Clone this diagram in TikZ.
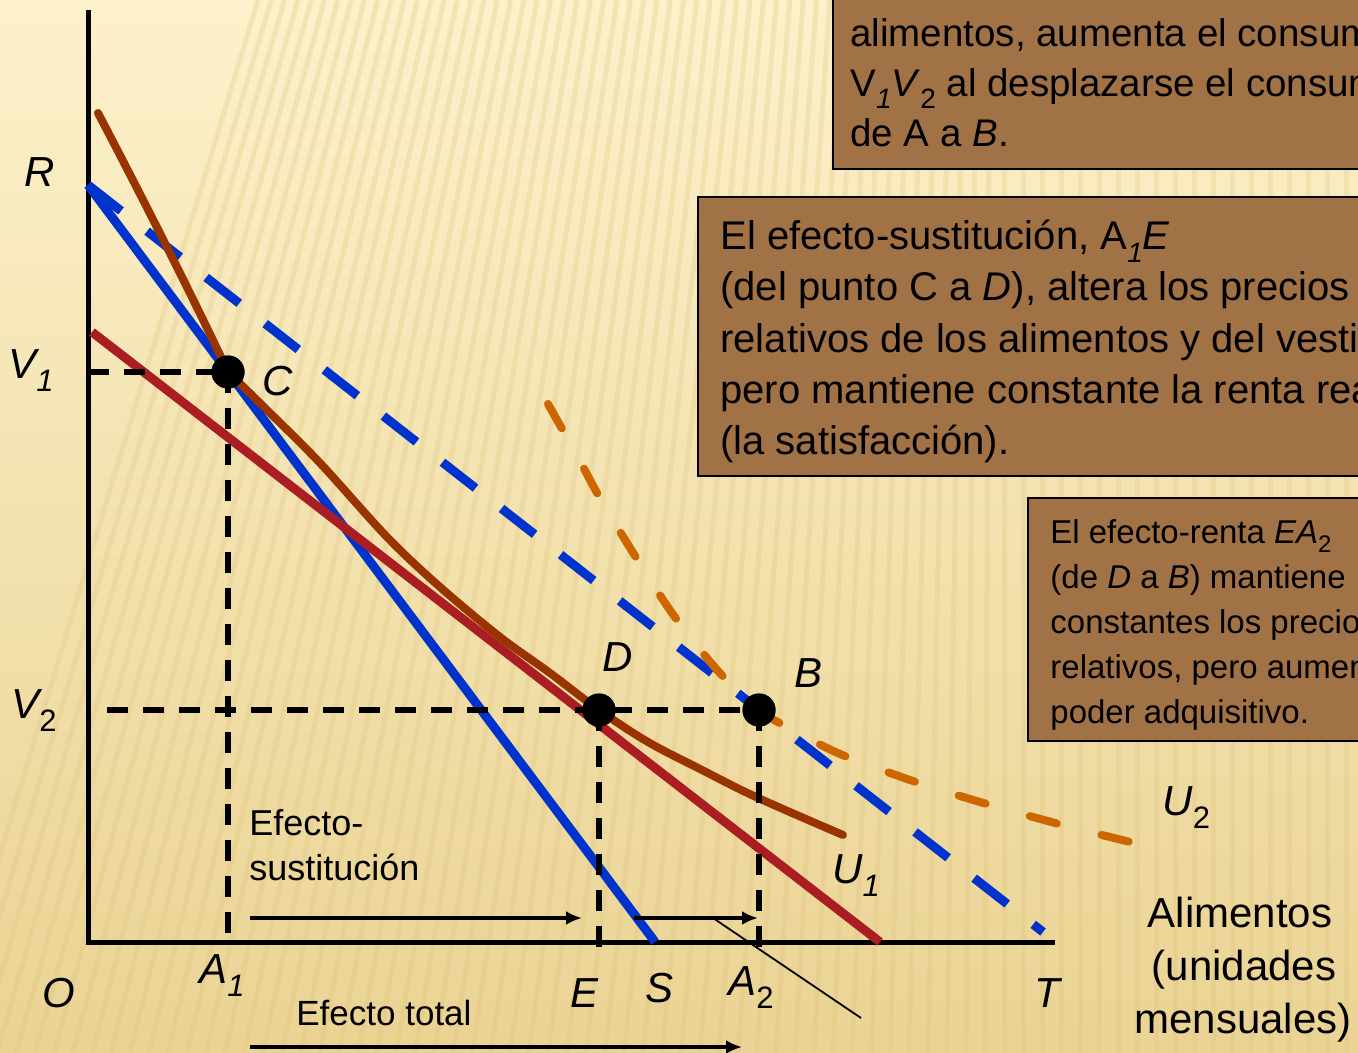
\documentclass[tikz,border=0pt]{standalone}
\usepackage{fontspec}
\setmainfont{Liberation Sans}
\usetikzlibrary{arrows.meta}
\definecolor{boxbrown}{RGB}{161,114,70}
\definecolor{lineblue}{RGB}{0,51,204}
\definecolor{ubrown}{RGB}{153,51,0}
\definecolor{bred}{RGB}{170,30,35}
\definecolor{uorange}{RGB}{204,102,0}
\definecolor{bgtop}{RGB}{252,241,203}
\definecolor{bgbot}{RGB}{234,211,148}
\definecolor{stripecol}{RGB}{222,192,118}
\newcommand\lsub[1]{\raisebox{-0.32em}{\fontsize{15.5}{16}\selectfont #1}}
\newcommand\bsub[1]{\raisebox{-0.3em}{\fontsize{14}{14}\selectfont #1}}
\newcommand\csub[1]{\raisebox{-0.3em}{\fontsize{12}{12}\selectfont #1}}
\begin{document}
\begin{tikzpicture}[x=0.5pt,y=-0.5pt,
  boxstyle/.style={fill=boxbrown,draw=black,line width=1.4pt},
  btA/.style={anchor=base west,inner sep=0,font=\fontsize{19.25}{23}\selectfont},
  btB/.style={anchor=base west,inner sep=0,font=\fontsize{20}{24}\selectfont},
  btC/.style={anchor=base west,inner sep=0,font=\fontsize{16.5}{20}\selectfont},
  axlab/.style={anchor=base west,inner sep=0,font=\fontsize{21}{25}\selectfont\itshape},
  plab/.style={anchor=base west,inner sep=0,font=\fontsize{18}{22}\selectfont},
  axisline/.style={line width=2.5pt,black},
  dline/.style={line width=2.8pt,black,dash pattern=on 10.5pt off 7.5pt},
  dot/.style={circle,fill=black,minimum size=16.5pt,inner sep=0},
  budget/.style={line width=4.5pt,lineblue},
  budgetd/.style={line width=4.5pt,lineblue,dash pattern=on 21pt off 16.5pt},
  redline/.style={line width=4.5pt,bred},
  ucurve/.style={line width=4pt,ubrown,line cap=round,line join=round},
  ucurved/.style={line width=4pt,uorange,line cap=round,dash pattern=on 14pt off 23pt},
  arr/.style={line width=2pt,-{Latex[length=8pt,width=7pt]}}
]
\useasboundingbox (0,0) rectangle (1358,1053);
\clip (0,0) rectangle (1358,1053);
% background
\shade[top color=bgtop,bottom color=bgbot] (0,0) rectangle (1358,1053);
\foreach \k in {0,...,78}{
  \pgfmathsetmacro\xb{\k*19-60}
  \pgfmathsetmacro\dd{max(0,300*(1-\xb/1000))}
  \draw[stripecol,line width=2.5pt,opacity=0.25] (\xb,1053) -- ({\xb+\dd},0);
}

% boxes
\draw[boxstyle] (833,-20) rectangle (1400,169);
\node[btA] (b1a) at (850,47) {alimentos, aumenta el consumo de vestido,};
\node[btA] (b1b) at (850,97) {V\bsub{\itshape 1}\textit{V}\bsub{2} al desplazarse el consumidor};
\node[btA] (b1c) at (850,147) {de A a \textit{B}.};

\draw[boxstyle] (698,197) rectangle (1400,476);
\node[btB] (b2a) at (720,250) {El efecto-sustitución, A\bsub{\itshape 1}\textit{E}};
\node[btB] (b2b) at (720,301) {(del punto C a \textit{D}), altera los precios};
\node[btB] (b2c) at (720,352) {relativos de los alimentos y del vestido,};
\node[btB] (b2d) at (720,403) {pero mantiene constante la renta real};
\node[btB] (b2e) at (720,454) {(la satisfacción).};

\draw[boxstyle] (1028,498) rectangle (1400,741);
\node[btC] (b3a) at (1050,543) {El efecto-renta \textit{EA}\csub{2}};
\node[btC] (b3b) at (1050,588) {(de \textit{D} a \textit{B}) mantiene};
\node[btC] (b3c) at (1050,633) {constantes los precios};
\node[btC] (b3d) at (1050,678) {relativos, pero aumenta el};
\node[btC] (b3e) at (1050,723) {poder adquisitivo.};

% key points
\coordinate (O) at (88,942);
\coordinate (ytop) at (88,10);
\coordinate (xend) at (1055,942);
\coordinate (R) at (88,185);
\coordinate (S) at (655,942);
\coordinate (Tend) at (1043,932);
\coordinate (P) at (92,332);
\coordinate (Q) at (880,942);
\coordinate (yV1) at (88,372);
\coordinate (yV2) at (107,710);
\coordinate (xA1) at (228,935);
\coordinate (xE) at (599,950);
\coordinate (xA2) at (759,950);
\coordinate (U1s) at (98,113);

% axes
\draw[axisline] (ytop) -- (O) -- (xend);

% budget lines
\draw[budgetd] (R) -- (Tend);
\draw[budget] (R) -- (S);
\draw[redline] (P) -- (Q);

% dots positions
\coordinate (Cc) at (228,372);
\coordinate (Dc) at (599,710);
\coordinate (Bc) at (759,710);

% indifference curves
\draw[ucurve] (U1s) .. controls (150,212) and (203,318) .. (Cc);
\draw[ucurve] plot[smooth,tension=0.55] coordinates {(Cc) (268,411) (320,463) (387,537) (440,587) (500,637) (550,673) (Dc) (648,742) (702,770) (756,797) (843,835)};
\draw[ucurved] plot[smooth,tension=0.5] coordinates {(548,404) (575,452) (601,500) (632,551) (672,613) (718,671) (Bc) (789,728) (840,754) (910,780) (980,802) (1070,827) (1147,846)};

% dashed guides
\node[dot] (C) at (Cc) {};
\node[dot] (D) at (Dc) {};
\node[dot] (B) at (Bc) {};
\draw[dline] (yV1) -- (C.center);
\draw[dline] (C.center) -- (xA1);
\draw[dline] (yV2) -- (B.center);
\draw[dline] (D.center) -- (xE);
\draw[dline] (B.center) -- (xA2);
\node[dot] at (Cc) {};
\node[dot] at (Dc) {};
\node[dot] at (Bc) {};

% arrows
\coordinate (a1s) at (250,918);
\coordinate (a1e) at (582,918);
\coordinate (a2s) at (634,918);
\coordinate (a2e) at (758,918);
\coordinate (a3s) at (250,1047);
\coordinate (a3e) at (742,1047);
\coordinate (ts) at (713,918);
\coordinate (te) at (861,1018);
\draw[arr] (a1s) -- (a1e);
\draw[arr] (a2s) -- (a2e);
\draw[arr] (a3s) -- (a3e);
\draw[line width=0.9pt] (ts) -- (te);

% labels
\node[axlab] (lR) at (24,187) {R};
\node[axlab] (lV1) at (8,378) {V\lsub{1}};
\node[axlab] (lC) at (262,395) {C};
\node[axlab] (lV2) at (11,718) {V\lsub{\upshape 2}};
\node[axlab] (lD) at (602,671) {D};
\node[axlab] (lB) at (794,687) {B};
\node[axlab] (lO) at (42,1007) {O};
\node[axlab] (lA1) at (199,983) {A\lsub{1}};
\node[axlab] (lE) at (570,1007) {E};
\node[axlab] (lS) at (645,1002) {S};
\node[axlab] (lA2) at (728,995) {A\lsub{\upshape 2}};
\node[axlab] (lT) at (1034,1007) {T};
\node[axlab] (lU1) at (832,883) {U\lsub{1}};
\node[axlab] (lU2) at (1162,815) {U\lsub{\upshape 2}};

\node[plab] (es1) at (249,835) {Efecto-};
\node[plab] (es2) at (249,880) {sustitución};
\node[plab,font=\fontsize{17.5}{21}\selectfont] (et) at (296,1025) {Efecto total};

\node[anchor=base,inner sep=0,font=\fontsize{21}{25}\selectfont] (al1) at (1240,927) {Alimentos};
\node[anchor=base,inner sep=0,font=\fontsize{21}{25}\selectfont] (al2) at (1244,980) {(unidades};
\node[anchor=base,inner sep=0,font=\fontsize{21}{25}\selectfont] (al3) at (1243,1033) {mensuales)};
\end{tikzpicture}
\end{document}
